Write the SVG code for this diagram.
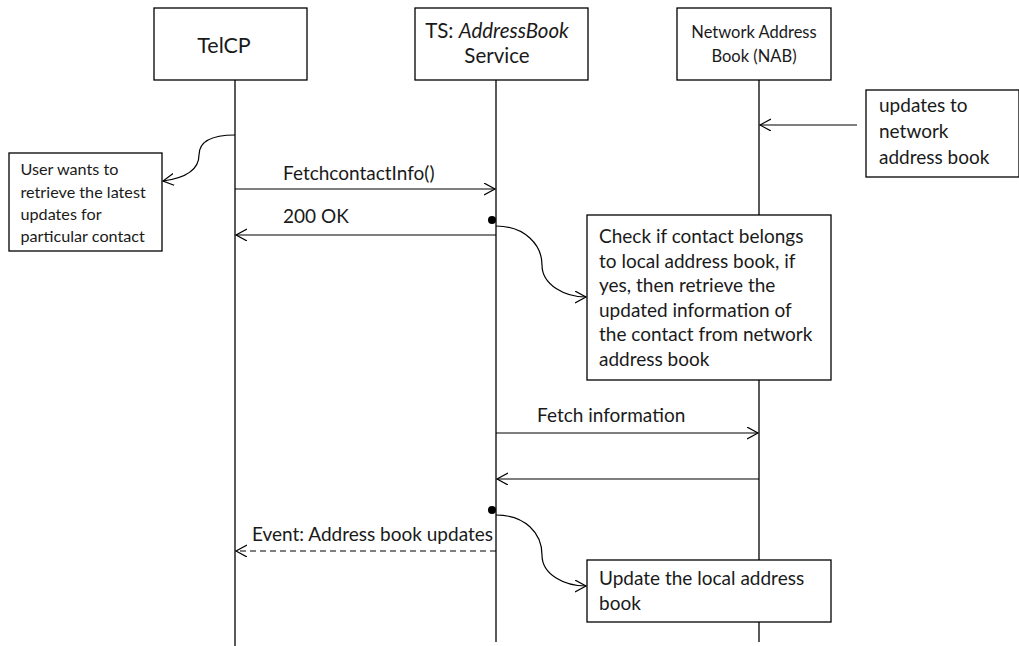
<svg xmlns="http://www.w3.org/2000/svg" width="1019" height="646" viewBox="0 0 1019 646">
  <style>
    .box { fill: #ffffff; stroke: #000000; stroke-width: 1.3; }
    .life { stroke: #000000; stroke-width: 1.3; fill: none; }
    .msg { stroke: #000000; stroke-width: 1.2; fill: none; marker-end: url(#open); }
    .dash { stroke-dasharray: 6 4; }
    .t { font-family: Lato, "Open Sans", "Liberation Sans", sans-serif; fill: #1a1a1a; }
    .body { font-size: 19px; }
  </style>
  <defs>
    <marker id="open" markerWidth="14" markerHeight="14" refX="11" refY="6" orient="auto" markerUnits="userSpaceOnUse">
      <path d="M0,0 L11,6 L0,12" fill="none" stroke="#000" stroke-width="1.2"/>
    </marker>
  </defs>
  <rect width="1019" height="646" fill="#ffffff"/>

  <!-- lifelines -->
  <g id="lifelines">
    <line class="life" x1="235" y1="80" x2="235" y2="646"/>
    <line class="life" x1="496" y1="80" x2="496" y2="642"/>
    <line class="life" x1="759" y1="80" x2="759" y2="642"/>
  </g>

  <!-- participants -->
  <g id="telcp">
    <rect class="box" x="154" y="8" width="153" height="72"/>
    <text class="t" x="224" y="53" font-size="21.5" text-anchor="middle">TelCP</text>
  </g>
  <g id="ts-service">
    <rect class="box" x="415" y="8" width="173" height="72"/>
    <text class="t" x="497" y="38" font-size="20.5" text-anchor="middle">TS: <tspan font-style="italic">AddressBook</tspan></text>
    <text class="t" x="497" y="63" font-size="20.5" text-anchor="middle">Service</text>
  </g>
  <g id="nab">
    <rect class="box" x="677" y="8" width="154" height="72"/>
    <text class="t" x="754" y="38" font-size="16.5" text-anchor="middle">Network Address</text>
    <text class="t" x="754" y="62" font-size="16.5" text-anchor="middle">Book (NAB)</text>
  </g>

  <!-- notes -->
  <g id="note-updates">
    <rect class="box" x="866" y="90" width="153" height="87"/>
    <text class="t body"><tspan x="879" y="112">updates to</tspan><tspan x="879" y="138">network</tspan><tspan x="879" y="164">address book</tspan></text>
  </g>
  <g id="note-user">
    <rect class="box" x="9" y="153" width="153" height="98"/>
    <text class="t" font-size="16.2"><tspan x="20.5" y="175">User wants to</tspan><tspan x="20.5" y="198">retrieve the latest</tspan><tspan x="20.5" y="220">updates for</tspan><tspan x="20.5" y="242">particular contact</tspan></text>
  </g>
  <g id="note-check">
    <rect class="box" x="587" y="215" width="244" height="165"/>
    <text class="t body"><tspan x="599" y="243">Check if contact belongs</tspan><tspan x="599" y="268">to local  address book, if</tspan><tspan x="599" y="292">yes, then retrieve the</tspan><tspan x="599" y="317">updated information of</tspan><tspan x="599" y="341">the contact from network</tspan><tspan x="599" y="366">address book</tspan></text>
  </g>
  <g id="note-update-local">
    <rect class="box" x="587" y="560" width="244" height="62"/>
    <text class="t body"><tspan x="599" y="585">Update the local address</tspan><tspan x="599" y="610">book</tspan></text>
  </g>

  <!-- connectors -->
  <g id="connectors">
    <line class="msg" x1="857" y1="125" x2="760" y2="125"/>
    <path class="msg" d="M235,135 C210,135 199,142 199,155 C199,170 185,178 163,181"/>
    <line class="msg" x1="235" y1="189" x2="495" y2="189"/>
    <line class="msg" x1="496" y1="235" x2="236" y2="235"/>
    <circle cx="492" cy="220" r="4" fill="#000"/>
    <path class="msg" d="M496,226 C525,226 542,245 542,265 C542,285 565,297 586,297"/>
    <line class="msg" x1="496" y1="433" x2="758" y2="433"/>
    <line class="msg" x1="759" y1="479" x2="497" y2="479"/>
    <circle cx="492" cy="510" r="4" fill="#000"/>
    <path class="msg" d="M496,515 C525,515 542,533 542,555 C542,575 565,586 586,586"/>
    <line class="msg dash" x1="496" y1="551" x2="236" y2="551"/>
  </g>

  <!-- message labels -->
  <g id="labels">
    <text class="t body" x="283" y="180">FetchcontactInfo()</text>
    <text class="t body" x="283" y="223">200 OK</text>
    <text class="t body" x="537" y="422">Fetch information</text>
    <text class="t body" x="493" y="541" text-anchor="end">Event: Address book updates</text>
  </g>
</svg>
